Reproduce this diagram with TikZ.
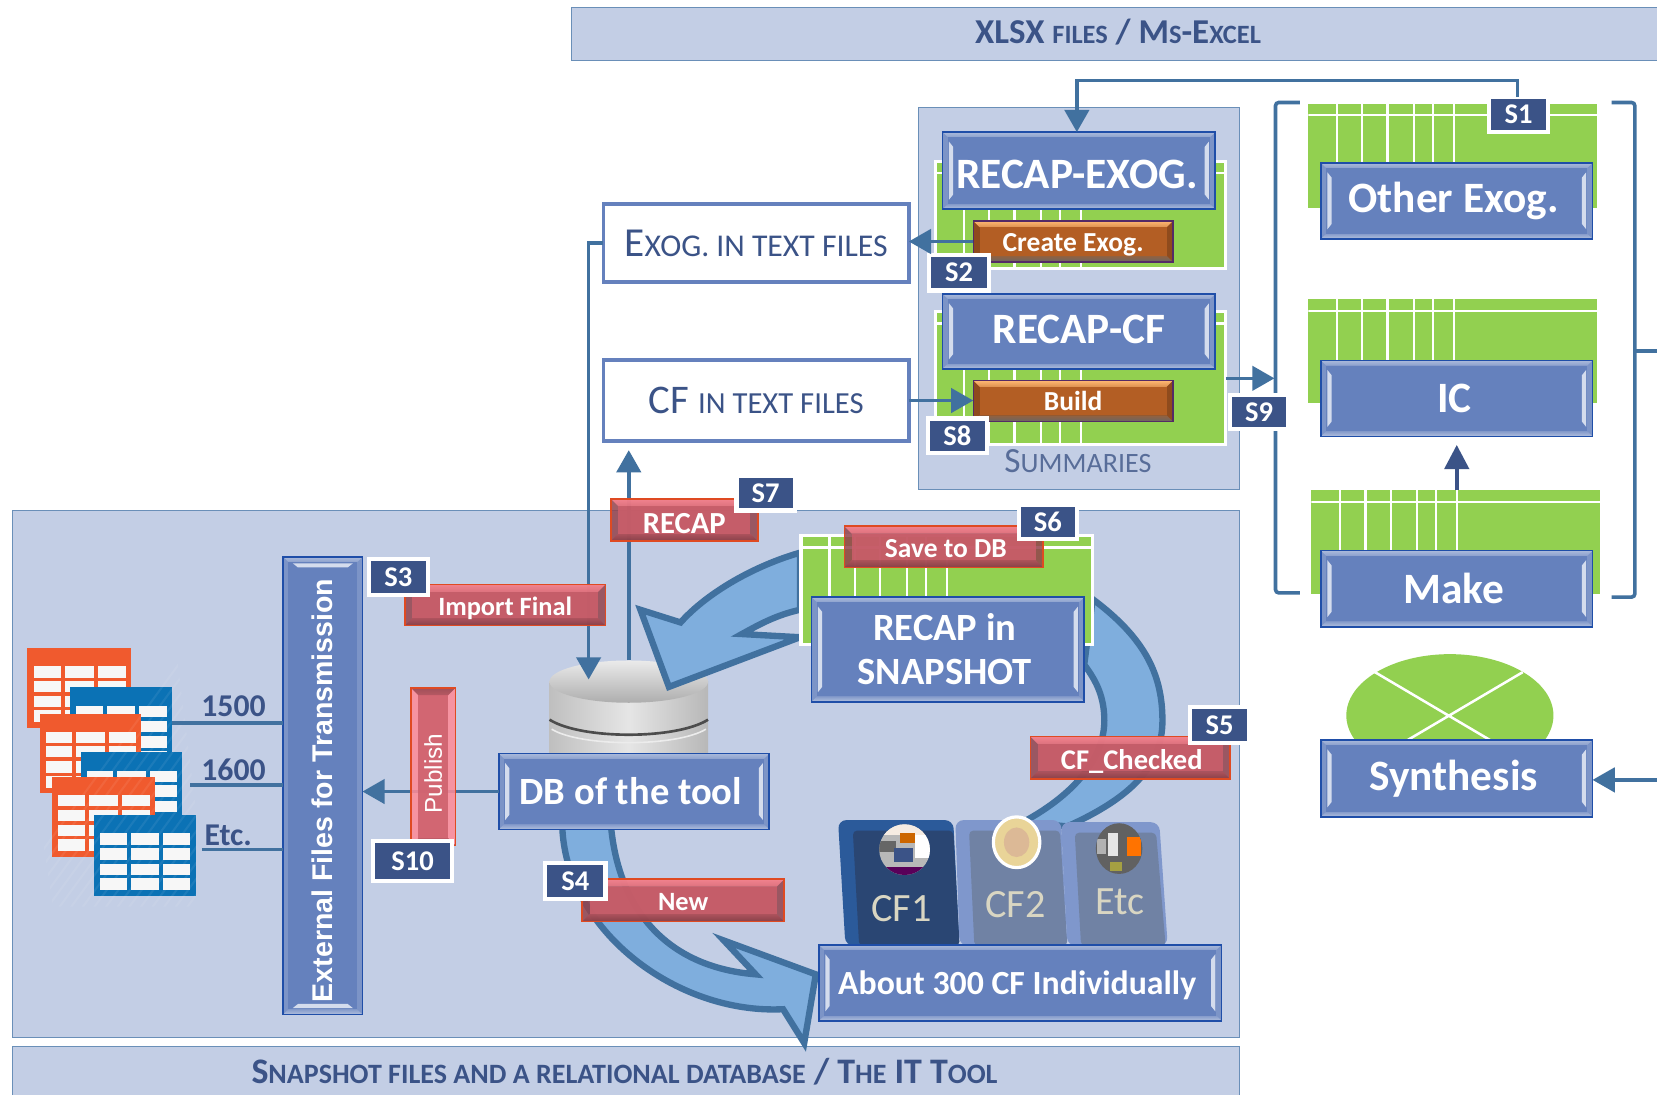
\documentclass[tikz,border=0pt]{standalone}
\usepackage{fontspec}
\setmainfont{Carlito}
\newfontfamily\wide{Liberation Sans}
\usetikzlibrary{arrows.meta,calc}
\definecolor{panel}{HTML}{C3CEE5}
\definecolor{panelb}{HTML}{6A8FB8}
\definecolor{ink}{HTML}{3B5387}
\definecolor{flow}{HTML}{41719F}
\definecolor{sky}{HTML}{7FAEDD}
\definecolor{leaf}{HTML}{92D050}
\definecolor{bluef}{HTML}{6581BD}
\definecolor{blueb}{HTML}{1F4EA8}
\definecolor{corange}{HTML}{F05A2E}
\definecolor{cblue}{HTML}{0B72B5}
\definecolor{orangef}{HTML}{B35E24}
\definecolor{redf}{HTML}{CD5F6B}
\definecolor{redb}{HTML}{DF4A22}
\definecolor{redt}{HTML}{FF8A96}
\definecolor{tabdark}{HTML}{2A4673}
\definecolor{tabdarkb}{HTML}{2B5A9A}
\definecolor{tabmid}{HTML}{7082A4}
\definecolor{tabmidb}{HTML}{7F97CC}
\definecolor{tabtxt}{HTML}{D9D6C2}
\newcommand\fsz[1]{\fontsize{#1}{#1}\selectfont}
\newcommand\lw[1]{{\fsz{\szs}#1}}
\def\szs{22}
% move text down by #1 inside a centred node: a strut makes the box taller above it
\newcommand\dn[2][3]{\setbox0=\hbox{#2}\rule{0pt}{\dimexpr\ht0+2\dimexpr#1pt\relax\relax}\box0 }
\newcommand\up[2][2]{\rule[-#1pt]{0pt}{#1pt}\rule[-#1pt]{0pt}{#1pt}\setbox0=\hbox{#2}\rule[-\dimexpr\dp0+2\dimexpr#1pt\relax\relax]{0pt}{0pt}\box0 }
% bevel: top, bottom, side, depth
\newcommand\bevel[4]{%
 \coordinate (pa) at (path picture bounding box.north west);
 \coordinate (pb) at (path picture bounding box.south east);
 \fill[#3] (pa) rectangle (pb);
 \shade[top color=#1,bottom color=#1!55!bevelbase] (pa) -- (pa-|pb) -- ([shift={(-#4pt,-#4pt)}]pa-|pb) -- ([shift={(#4pt,-#4pt)}]pa) -- cycle;
 \shade[bottom color=#2,top color=#2!40!bevelbase] (pa|-pb) -- (pb) -- ([shift={(-#4pt,#4pt)}]pb) -- ([shift={(#4pt,#4pt)}]pa|-pb) -- cycle;
 \fill[bevelbase] ([shift={(#4pt,-#4pt)}]pa) rectangle ([shift={(-#4pt,#4pt)}]pb);
}
\newcommand\barsV{%
 \fill[barc] ([shift={(6pt,-9pt)}]pa) -- ([shift={(10pt,-14pt)}]pa) -- ([shift={(10pt,14pt)}]pa|-pb) -- ([shift={(6pt,9pt)}]pa|-pb) -- cycle;
 \fill[barc] ([shift={(-6pt,-9pt)}]pa-|pb) -- ([shift={(-10pt,-14pt)}]pa-|pb) -- ([shift={(-10pt,14pt)}]pb) -- ([shift={(-6pt,9pt)}]pb) -- cycle;
}
\newcommand\barsH{%
 \fill[barc] ([shift={(9pt,-6pt)}]pa) -- ([shift={(14pt,-10pt)}]pa) -- ([shift={(-14pt,-10pt)}]pa-|pb) -- ([shift={(-9pt,-6pt)}]pa-|pb) -- cycle;
 \fill[barc] ([shift={(9pt,6pt)}]pa|-pb) -- ([shift={(14pt,10pt)}]pa|-pb) -- ([shift={(-14pt,10pt)}]pb) -- ([shift={(-9pt,6pt)}]pb) -- cycle;
}
\colorlet{barc}{white!72!bluef}
\colorlet{bevelbase}{bluef}
\tikzset{
 allb/.style={inner sep=0pt,outer sep=0pt,align=center,font=\bfseries},
 bluebox/.style={allb,draw=blueb,line width=1.6pt,text=white,font=\bfseries\fsz{41},
   path picture={\colorlet{bevelbase}{bluef}\bevel{white!45!bluef}{white!50!bluef}{white!15!bluef}{5}\barsV}},
 blueboxv/.style={allb,draw=blueb,line width=1.6pt,text=white,
   path picture={\colorlet{bevelbase}{bluef}\bevel{white!45!bluef}{white!50!bluef}{white!15!bluef}{5}\barsH}},
 orangebtn/.style={allb,draw=black!45!orange!60!blue,line width=1.2pt,text=white,font=\bfseries\fsz{26},
   path picture={\colorlet{bevelbase}{orangef}\bevel{orange!55!white}{gray!80!black}{orangef!80!black}{6}}},
 redbtn/.style={allb,draw=redb,line width=1.6pt,text=white,font=\bfseries\fsz{25},fill opacity=.86,text opacity=1,
   path picture={\colorlet{bevelbase}{redf}\bevel{redt}{redf!65!black}{redf!72!black}{7}}},
 redbtnv/.style={allb,draw=redb,line width=1.6pt,text=white,fill opacity=.86,text opacity=1,
   path picture={\colorlet{bevelbase}{redf}\bevel{redf!72!black}{redf!72!black}{redt}{7}}},
 slabel/.style={allb,draw=white,line width=4pt,fill=ink,text=white,font=\bfseries\fsz{27}},
 txtbox/.style={allb,draw=bluef,line width=3.6pt,fill=white,text=ink},
 pnl/.style={draw=panelb,line width=1.3pt,fill=panel,allb},
 flowline/.style={draw=flow,line width=3.4pt},
 flowarrow/.style={flowline,-{Triangle[length=21pt,width=23pt]}},
 sweep/.style={draw=flow,line width=6pt,fill=sky,line join=miter,miter limit=6},
 datatext/.style={allb,text=ink,font=\bfseries\fsz{30}},
 greengrid/.style={allb,fill=leaf,
   path picture={\coordinate (pa) at (path picture bounding box.north west);
     \coordinate (pb) at (path picture bounding box.south east);
     \foreach \d in {27,51,75,100,118,138}{\draw[white,line width=2.2pt] ([xshift=\d pt]pa) -- ([xshift=\d pt]pa|-pb);}
     \draw[white,line width=2.2pt] ([yshift=-11pt]pa) -- ([yshift=-11pt]pa-|pb);}},
 greengridb/.style={greengrid,draw=white,line width=3pt},
}
% name, style, x1,y1,x2,y2, text
\newcommand\pbox[7]{%
 \pgfmathsetmacro\pcx{(#3+#5)/2}\pgfmathsetmacro\pcy{(#4+#6)/2}%
 \pgfmathsetmacro\pw{#5-#3}\pgfmathsetmacro\ph{#6-#4}%
 \node[#2,minimum width=\pw pt,minimum height=\ph pt] (#1) at (\pcx,\pcy) {#7};}
% spreadsheet icon: colour, x, y, w, h
\newcommand\sheet[5]{%
 \fill[#1] (#2,#3) rectangle ++(#4,#5);
 \foreach \ca/\cb in {.06/.32,.36/.64,.68/.95}{
  \foreach \ra/\rb in {.226/.37,.41/.55,.6/.74,.78/.93}{
   \fill[white!94!gray] ({#2+\ca*#4},{#3+\ra*#5}) rectangle ({#2+\cb*#4},{#3+\rb*#5});
  }}}
\begin{document}
\begin{tikzpicture}[x=1pt,y=-1pt]
\useasboundingbox (0,0) rectangle (1568,1036);
\fill[white] (0,0) rectangle (1568,1036);
% panels
\pbox{topbar}{pnl,text=ink}{541}{7}{1580}{57}{}
\node[allb,text=ink] (toptxt) at (1058,30) {\def\szs{25}\fsz{33}XLSX \lw{FILES} / M\lw{S}-E\lw{XCEL}};
\pbox{sumpanel}{pnl}{869}{102}{1173}{463}{}
\pbox{lowpanel}{pnl}{12}{483}{1173}{982}{}
\pbox{botbar}{pnl}{12}{990}{1173}{1050}{}
\node[allb,text=ink] (bottxt) at (591,1014) {\def\szs{26.5}\fsz{34}S\lw{NAPSHOT FILES AND A RELATIONAL DATABASE} / T\lw{HE} IT T\lw{OOL}};
\node[allb,text=ink!85!white,font=\mdseries] (sumtxt) at (1020,436) {\def\szs{26.5}\fsz{33.5}S\lw{UMMARIES}};
% green tables
\pbox{t1}{greengridb}{885}{153}{1160}{254}{}
\pbox{t2}{greengridb}{885}{295}{1160}{421}{}
\pbox{t3}{greengrid}{1238}{98}{1511}{197}{}
\pbox{t4}{greengrid}{1238}{283}{1511}{381}{}
\pbox{t5}{greengrid}{1241}{464}{1514}{562}{}
% brackets
\draw[flowline,rounded corners=3pt] (1230,97) -- (1207,97) -- (1207,561) -- (1230,561);
\draw[flowline,rounded corners=3pt] (1525,97) -- (1547,97) -- (1547,565) -- (1525,565);
\coordinate (brk) at (1547,332);
\coordinate (brkout) at (1580,332);
\draw[flowline] (brk) -- (brkout);
% ellipse
\fill[leaf] (1372,677) ellipse [x radius=98,y radius=58];
\draw[white,line width=2.4pt] (1301,636) -- (1440,718) (1441,636) -- (1302,718);
% blue boxes right
\pbox{recapexog}{bluebox}{892}{125}{1150}{198}{\hspace*{-4pt}\dn[4]{RECAP-EXOG.}}
\pbox{recapcf}{bluebox}{892}{278}{1150}{349}{\up[2]{RECAP-CF}}
\pbox{otherexog}{bluebox}{1250}{154}{1507}{226}{\hspace*{-6pt}Other Exog.}
\pbox{ic}{bluebox}{1250}{341}{1507}{413}{\hspace*{-4pt}IC}
\pbox{make}{bluebox}{1250}{521}{1507}{593}{\hspace*{-6pt}Make}
\pbox{synth}{bluebox}{1250}{700}{1507}{773}{\hspace*{-6pt}Synthesis}
\pbox{create}{orangebtn}{921}{209}{1110}{248}{\dn[3]{Create Exog.}}
\pbox{build}{orangebtn}{921}{360}{1110}{399}{Build}
% text boxes
\pbox{exogtxt}{txtbox,font=\mdseries}{571}{193}{860}{267}{\def\szs{30}\fsz{39}E\lw{XOG. IN TEXT FILES}}
\pbox{cftxt}{txtbox,font=\mdseries}{571}{341}{860}{417}{\def\szs{29}\fsz{38.5}CF \lw{IN TEXT FILES}}
% S labels top
\pbox{s1}{slabel}{1409}{92}{1465}{125}{S1}
\pbox{s2}{slabel}{879}{241}{936}{275}{S2}
\pbox{s8}{slabel}{878}{396}{934}{429}{S8}
\pbox{s9}{slabel}{1164}{374}{1219}{406}{S9}
% arrows top
\draw[flowarrow] ([xshift=-1pt]s1.north) |- (1019,76) -- (1019,125);
\draw[flowarrow] (create.west) -- (create.west-|exogtxt.east);
\draw[flowarrow] (cftxt.east) -- (cftxt.east-|build.west);
\coordinate (t2e) at (1160,358);
\coordinate (brkin) at (1206,358);
\draw[flowarrow] (t2e) -- (brkin);
\draw[draw=ink,line width=4pt,-{Triangle[length=23pt,width=23pt]}] (t5.north-|ic.south) -- ([yshift=-8pt]ic.south);
\coordinate (synthin) at (1580,738);
\draw[flowarrow] (synthin) -- (synthin-|synth.east);
% cylinder
\coordinate (cyl) at (595,625);
\shade[left color=black!25,right color=black!28,middle color=black!10] (520,645) -- (520,720) -- (670,720) -- (670,645) -- cycle;
\shade[top color=black!8,bottom color=black!32] (595,645) ellipse [x radius=75,y radius=20];
\draw[black!70,line width=2.5pt] (520,681) .. controls (550,700) and (640,700) .. (670,681);
\draw[white!85!gray,line width=1.5pt] (522,690) .. controls (550,707) and (640,707) .. (668,690);
% curved arrow 2
\draw[sweep] (1034,567) .. controls (1085,605) and (1100,640) .. (1100,682) .. controls (1100,725) and (1070,755) .. (1010,782) -- (968,778) .. controls (1020,750) and (1045,715) .. (1045,682) .. controls (1045,660) and (1038,645) .. (1026,629) -- cycle;
% curved arrow 1
\draw[sweep] (757,523) .. controls (715,535) and (670,560) .. (644,589) -- (606,577) -- (633,650) -- (757,603) -- (702,600) .. controls (720,590) and (735,582) .. (757,577) -- cycle;
% curved arrow 3
\draw[sweep] (532,780) .. controls (534,880) and (640,960) .. (741,955) -- (761,987) -- (772,922) -- (685,890) -- (715,922) .. controls (630,915) and (585,860) .. (578,780) -- cycle;
% snapshot
\pbox{t6}{greengridb}{758}{507}{1034}{610}{}
% CF tabs
\fill[rounded corners=8pt,fill=tabdarkb] (800,895) -- (793,776) -- (902,776) -- (908,895) -- cycle;
\fill[rounded corners=4pt,fill=tabdark] (813,895) -- (807,786) -- (902,786) -- (908,895) -- cycle;
\fill[rounded corners=8pt,fill=tabmidb] (908,895) -- (904,776) -- (1004,776) -- (1010,895) -- cycle;
\fill[rounded corners=4pt,fill=tabmid] (922,895) -- (917,786) -- (1003,786) -- (1010,895) -- cycle;
\fill[rounded corners=8pt,fill=tabmidb] (1010,895) -- (1004,778) -- (1097,778) -- (1105,895) -- cycle;
\fill[rounded corners=4pt,fill=tabmid] (1023,895) -- (1017,788) -- (1094,788) -- (1103,895) -- cycle;
\node[allb,font=\fsz{38},text=tabtxt] (cf1) at (853,860) {CF1};
\node[allb,font=\fsz{38},text=tabtxt] (cf2) at (961,856) {CF2};
\node[allb,font=\fsz{38},text=tabtxt] (etc) at (1060,853) {Etc};
% photos
\begin{scope}
\clip (856,804) ellipse [x radius=24,y radius=24];
\fill[black!28] (830,780) rectangle (882,830);
\fill[white!85!brown] (830,780) rectangle (882,790);
\fill[orange!80!black] (852,788) rectangle (866,798);
\fill[white] (866,790) rectangle (880,812);
\fill[black!60] (832,796) rectangle (848,806);
\fill[ink] (846,802) rectangle (864,816);
\fill[violet!70!black] (830,820) rectangle (882,830);
\end{scope}
\draw[white,line width=3pt,fill=brown!40!white!85!yellow] (962,797) ellipse [x radius=22,y radius=24];
\fill[brown!55!white] (962,797) ellipse [x radius=12,y radius=14];
\begin{scope}
\clip (1059,803) ellipse [x radius=22,y radius=24];
\fill[black!62] (1035,778) rectangle (1083,828);
\fill[white!80!gray] (1048,788) rectangle (1058,810);
\fill[orange!90!red] (1066,792) rectangle (1080,810);
\fill[yellow!60!black] (1050,816) rectangle (1062,824);
\fill[black!30] (1038,794) rectangle (1047,808);
\end{scope}
% lower boxes
\pbox{snap}{bluebox,font=\bfseries\fsz{36.5}}{768}{565}{1026}{664}{\hspace*{-6pt}RECAP in\\[5pt]\hspace*{-6pt}SNAPSHOT}
\pbox{about}{bluebox,font=\bfseries\fsz{32}}{775}{894}{1156}{966}{\hspace*{-6pt}\dn[2]{About 300 CF Individually}}
\pbox{db}{bluebox,font=\bfseries\fsz{36.5}}{472}{713}{728}{785}{\hspace*{-6pt}DB of the tool}
\pbox{ext}{blueboxv}{268}{527}{343}{960}{}
\node[allb,rotate=90,text=white,font=\wide\bfseries\fsz{27}] (exttxt) at (305,748) {External Files for Transmission};
% arrows through translucent buttons
\coordinate (dbin) at (557,643);
\coordinate (dbup) at (595,426);
\draw[flowarrow] (exogtxt.west) -| (dbin);
\draw[flowarrow] (cyl) -- (dbup);
\draw[flowarrow] (db.west) -- (db.west-|ext.east);
% icons
\sheet{corange}{26}{613}{98}{76}
\sheet{cblue}{66}{650}{97}{78}
\sheet{corange}{37.5}{675.5}{96}{75}
\sheet{cblue}{76.5}{712}{96}{76}
\sheet{corange}{49.5}{735}{97}{76}
\sheet{cblue}{89}{771}{96}{77}
\begin{scope}
\clip (26,602) -- (165,602) -- (186,770) -- (186,858) -- (50,858) -- (26,700) -- cycle;
\foreach \k in {0,...,40}{\draw[white,opacity=.07,line width=2pt] ({\k*11},860) -- ({\k*11+190},600);}
\end{scope}
\coordinate (i1) at (163,684);
\coordinate (i2) at (180,743);
\coordinate (i3) at (191,804);
\draw[flowline] (i1) -- (i1-|ext.west);
\draw[flowline] (i2) -- (i2-|ext.west);
\draw[flowline] (i3) -- (i3-|ext.west);
\node[datatext] (n1500) at (221,668) {1500};
\node[datatext] (n1600) at (221,728) {1600};
\node[datatext] (netc) at (216,790) {Etc.};
% red buttons
\pbox{import}{redbtn}{383}{553}{573}{592}{\dn[3]{Import Final}}
\pbox{recap}{redbtn,font=\bfseries\fsz{29}}{578}{472}{717}{512}{\dn[3]{RECAP}}
\pbox{save}{redbtn,font=\bfseries\fsz{26}}{799}{498}{987}{537}{\hspace*{4pt}\dn[2]{Save to DB}}
\pbox{checked}{redbtn,font=\bfseries\fsz{27}}{975}{697}{1164}{737}{\hspace*{3pt}\dn[4]{CF\_Checked}}
\pbox{new}{redbtn}{551}{832}{742}{872}{\dn[2]{New}}
\pbox{publish}{redbtnv}{389}{651}{431}{800}{}
\node[allb,rotate=90,text=white,font=\wide\fsz{23}] (pubtxt) at (410,732) {Publish};
% S labels lower
\pbox{s7}{slabel}{697}{450}{752}{483}{S7}
\pbox{s6}{slabel}{964}{478}{1019}{510}{S6}
\pbox{s3}{slabel}{349}{529}{405}{563}{S3}
\pbox{s5}{slabel}{1126}{669}{1182}{703}{S5}
\pbox{s10}{slabel}{353}{796}{428}{834}{S10}
\pbox{s4}{slabel}{516}{817}{573}{851}{S4}
\end{tikzpicture}
\end{document}
